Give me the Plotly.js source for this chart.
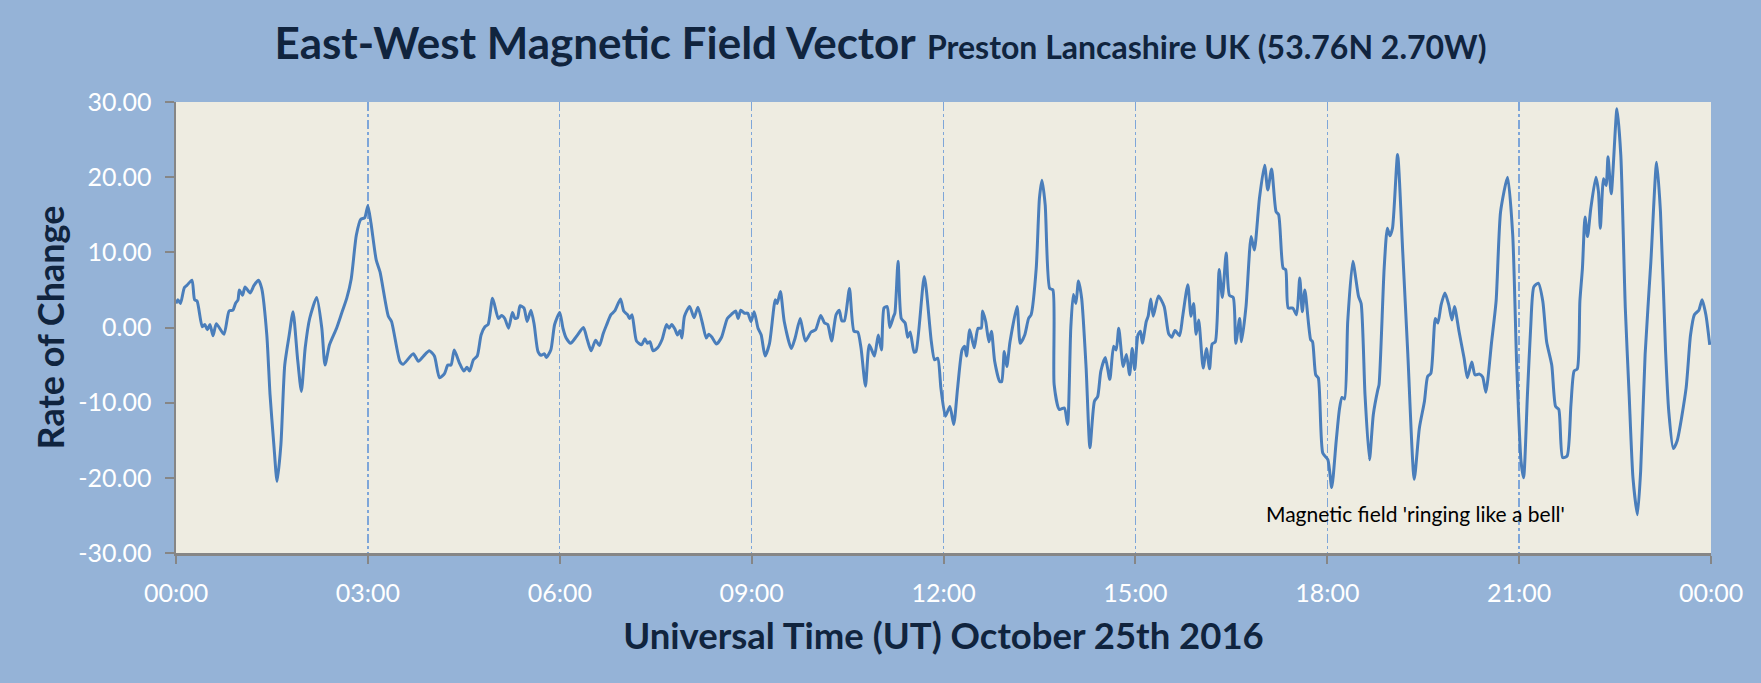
<!DOCTYPE html>
<html>
<head>
<meta charset="utf-8">
<script src="https://cdn.plot.ly/plotly-3.0.1.min.js"></script>
<style>
  html, body { margin: 0; padding: 0; background: #95b3d7; }
  #chart { width: 1761px; height: 683px; }
</style>
</head>
<body>
<div id="chart"></div>
<script>
// Time of day (hours UT) for each reading
const timeHours = [
  0.00,0.03,0.07,0.13,0.17,0.25,0.29,0.33,0.41,0.45,0.49,0.53,0.58,0.63,0.75,0.83,0.89,0.93,0.97,0.99,
  1.04,1.08,1.16,1.22,1.29,1.34,1.42,1.47,1.53,1.58,1.64,1.70,1.77,1.83,1.90,1.96,2.02,2.09,2.20,2.28,
  2.33,2.40,2.51,2.59,2.67,2.74,2.82,2.89,2.95,3.00,3.05,3.13,3.19,3.32,3.37,3.50,3.55,3.71,3.79,3.87,
  3.96,4.04,4.12,4.20,4.25,4.30,4.35,4.43,4.50,4.55,4.59,4.65,4.71,4.77,4.83,4.88,4.95,5.04,5.09,5.14,
  5.20,5.26,5.30,5.34,5.38,5.44,5.49,5.55,5.60,5.66,5.71,5.76,5.79,5.86,5.92,6.00,6.05,6.10,6.17,6.26,
  6.37,6.43,6.49,6.56,6.62,6.68,6.73,6.80,6.86,6.95,7.00,7.06,7.09,7.13,7.20,7.28,7.33,7.37,7.41,7.46,
  7.53,7.60,7.67,7.71,7.75,7.80,7.84,7.88,7.91,7.95,8.03,8.10,8.16,8.23,8.29,8.33,8.38,8.45,8.53,8.62,
  8.69,8.75,8.79,8.83,8.89,8.94,8.99,9.04,9.10,9.15,9.21,9.28,9.37,9.40,9.45,9.51,9.62,9.68,9.76,9.84,
  9.93,10.00,10.08,10.14,10.19,10.25,10.32,10.37,10.41,10.45,10.53,10.60,10.66,10.71,10.78,10.84,10.92,10.98,11.03,11.07,
  11.12,11.16,11.22,11.24,11.29,11.34,11.40,11.44,11.48,11.54,11.57,11.70,11.81,11.86,11.91,11.96,12.03,12.10,12.16,12.22,
  12.29,12.33,12.36,12.41,12.48,12.54,12.59,12.61,12.66,12.71,12.75,12.80,12.88,12.91,12.95,12.99,13.04,13.15,13.20,13.27,
  13.33,13.37,13.45,13.50,13.54,13.59,13.66,13.71,13.73,13.81,13.89,13.94,13.99,14.03,14.07,14.11,14.16,14.23,14.29,14.36,
  14.41,14.46,14.53,14.60,14.66,14.70,14.74,14.81,14.86,14.91,14.95,14.99,15.04,15.08,15.11,15.17,15.20,15.24,15.28,15.36,
  15.45,15.52,15.57,15.62,15.69,15.74,15.82,15.87,15.91,15.95,15.99,16.06,16.11,16.16,16.20,16.25,16.31,16.36,16.42,16.47,
  16.53,16.57,16.63,16.66,16.73,16.81,16.86,16.94,17.02,17.07,17.13,17.20,17.24,17.31,17.35,17.39,17.46,17.52,17.57,17.61,
  17.65,17.74,17.77,17.82,17.86,17.93,18.01,18.07,18.14,18.19,18.23,18.27,18.32,18.40,18.49,18.53,18.59,18.66,18.72,18.79,
  18.81,18.89,18.94,18.98,19.02,19.10,19.18,19.26,19.36,19.44,19.52,19.57,19.62,19.69,19.73,19.78,19.84,19.90,19.95,19.99,
  20.06,20.14,20.19,20.26,20.31,20.38,20.43,20.48,20.57,20.64,20.71,20.82,20.90,20.96,21.03,21.07,21.13,21.18,21.23,21.30,
  21.37,21.43,21.51,21.57,21.62,21.68,21.75,21.81,21.86,21.91,21.95,21.99,22.03,22.07,22.12,22.20,22.24,22.27,22.32,22.36,
  22.39,22.44,22.53,22.59,22.66,22.72,22.78,22.85,22.90,22.97,23.06,23.15,23.21,23.29,23.34,23.41,23.47,23.61,23.68,23.74,
  23.81,23.86,23.92,23.98
];

// East-West rate of change
const rateOfChange = [
  3.2,3.7,3.2,5.3,5.6,6.3,3.7,3.5,0.1,0.4,-0.3,0.4,-1.1,0.5,-0.9,2.2,2.3,3.2,3.7,5.0,
  4.3,5.4,4.6,5.6,6.3,5.2,-1.0,-8.9,-15.6,-20.5,-15.6,-5.0,-1.0,2.1,-4.1,-8.5,-2.7,1.2,4.0,-0.1,
  -5.0,-2.3,-0.1,1.9,3.9,6.5,12.3,14.4,14.6,16.2,13.8,9.0,7.4,1.5,0.8,-4.5,-4.9,-3.5,-4.5,-3.8,
  -3.1,-3.8,-6.7,-6.1,-5.0,-5.0,-3.0,-4.7,-5.8,-5.3,-5.8,-4.3,-3.8,-1.0,0.1,0.4,3.9,1.2,1.6,1.2,
  -0.1,2.0,1.2,1.3,2.9,2.6,0.8,2.3,0.4,-3.2,-3.7,-3.5,-4.0,-3.0,0.4,2.0,-0.1,-1.4,-2.1,-1.2,
  0.0,-1.6,-3.1,-1.7,-2.4,-0.8,0.3,1.7,2.2,3.8,2.2,1.7,1.2,1.7,-1.8,-2.3,-1.5,-2.1,-1.9,-3.1,
  -2.7,-1.6,0.4,-0.1,0.4,-0.2,-1.0,-0.4,-1.4,1.5,2.8,1.3,2.7,0.6,-1.4,-0.9,-1.3,-2.2,-1.3,1.2,
  1.8,2.2,1.2,2.3,1.9,1.9,0.8,2.1,-0.1,-1.0,-3.8,-2.1,3.7,3.2,4.8,0.8,-2.8,-1.4,1.2,-1.8,
  -0.6,-0.3,1.6,0.6,0.4,-1.8,1.7,2.3,0.9,0.9,5.2,-0.5,-0.6,-2.7,-7.8,-2.3,-3.8,-1.0,-3.0,2.6,
  2.8,0.0,1.5,1.9,8.8,1.2,0.6,-1.3,-0.6,-3.3,-3.2,6.8,-1.9,-4.3,-4.1,-8.1,-11.8,-10.5,-12.9,-8.1,
  -3.0,-2.5,-3.8,-0.3,-2.7,-0.1,-0.1,2.2,0.8,-1.9,-0.5,-4.5,-7.2,-7.2,-3.2,-5.2,-1.9,2.8,-2.1,-1.0,
  1.2,1.7,7.9,17.2,19.6,16.3,5.2,5.0,-7.6,-10.9,-10.7,-12.9,-0.1,4.4,3.2,6.2,3.9,-5.4,-16.0,-9.8,
  -9.2,-5.8,-4.0,-6.9,-2.5,-3.0,-0.1,-5.2,-3.6,-6.3,-2.8,-5.6,-1.0,-0.5,-2.1,0.8,1.5,3.8,1.5,4.2,
  2.8,-0.8,-1.3,-0.4,-1.1,1.5,5.7,1.5,3.2,-0.9,1.0,-5.4,-2.8,-5.5,-2.2,-1.9,7.7,4.0,9.9,4.3,
  4.0,-2.1,1.2,-1.9,2.8,12.1,10.3,17.2,21.6,18.3,21.1,15.4,15.0,7.9,7.7,2.6,2.6,1.7,6.6,2.1,
  5.0,-1.6,-1.9,-6.3,-6.7,-16.7,-17.6,-21.3,-15.1,-10.9,-9.3,-9.5,0.8,8.8,4.1,3.2,-8.9,-17.6,-11.6,-8.3,
  -7.6,7.9,13.2,12.2,13.2,23.0,10.1,-3.6,-20.2,-13.4,-9.8,-6.5,-6.1,1.2,0.6,3.0,4.6,3.0,1.0,2.8,
  -0.5,-4.1,-6.7,-4.6,-6.3,-6.2,-6.6,-8.6,-1.9,3.5,15.4,20.0,12.3,-4.5,-17.8,-20.0,-8.9,-0.1,5.4,5.9,
  3.5,-1.9,-5.0,-10.5,-10.9,-17.3,-17.1,-10.3,-5.8,-5.5,3.5,7.9,14.7,12.1,15.8,20.0,18.1,13.2,19.8,18.9,
  22.7,17.8,29.1,22.9,2.6,-8.9,-20.0,-24.9,-19.1,-3.6,8.8,22.0,15.4,-3.2,-11.2,-16.1,-15.1,-8.1,-1.0,1.7,
  2.3,3.7,1.7,-2.3
];

const xTickValues = [0, 3, 6, 9, 12, 15, 18, 21, 24];
const xTickLabels = ["00:00", "03:00", "06:00", "09:00", "12:00", "15:00", "18:00", "21:00", "00:00"];
const yTickValues = [-30, -20, -10, 0, 10, 20, 30];
const yTickLabels = ["-30.00", "-20.00", "-10.00", "0.00", "10.00", "20.00", "30.00"];

const chartTitle = "East-West Magnetic Field Vector";
const chartSubtitle = "Preston Lancashire UK (53.76N 2.70W)";
const xAxisTitle = "Universal Time (UT) October 25th 2016";
const yAxisTitle = "Rate of Change";
const noteText = "Magnetic field 'ringing like a bell'";
const noteX = 19.375;
const noteY = -24.8;

const titleColor = "#10243e";
const fontFamily = "Lato, 'Open Sans', sans-serif";

const trace = {
  x: timeHours,
  y: rateOfChange,
  type: "scatter",
  mode: "lines",
  line: { color: "#4a7ebb", width: 3, shape: "spline", smoothing: 0.6 },
  hoverinfo: "x+y"
};

const layout = {
  width: 1761,
  height: 683,
  paper_bgcolor: "#95b3d7",
  plot_bgcolor: "#eeece1",
  showlegend: false,
  margin: { l: 176, r: 50, t: 102, b: 130, pad: 0 },
  font: { family: fontFamily, color: "#ffffff" },
  title: {
    text: "<b>" + chartTitle + "</b> <span style='font-size:32px'><b>" + chartSubtitle + "</b></span>",
    font: { family: fontFamily, size: 44, color: titleColor },
    x: 0.5, xref: "container", xanchor: "center",
    y: 1 - 44 / 683, yref: "container", yanchor: "middle"
  },
  xaxis: {
    range: [0, 24],
    tickmode: "array",
    tickvals: xTickValues,
    ticktext: xTickLabels,
    ticks: "outside",
    ticklen: 8,
    tickwidth: 2,
    tickcolor: "#868686",
    tickfont: { family: fontFamily, size: 25, color: "#ffffff" },
    ticklabelstandoff: 8,
    showline: true,
    linecolor: "#868686",
    linewidth: 2.5,
    showgrid: true,
    gridcolor: "#7ea6d9",
    gridwidth: 1.3,
    griddash: "dashdot",
    zeroline: false,
    fixedrange: true,
    title: {
      text: "<b>" + xAxisTitle + "</b>",
      font: { family: fontFamily, size: 36.5, color: titleColor },
      standoff: 18
    }
  },
  yaxis: {
    range: [-30, 30],
    tickmode: "array",
    tickvals: yTickValues,
    ticktext: yTickLabels,
    ticks: "outside",
    ticklen: 9,
    tickwidth: 2,
    tickcolor: "#868686",
    tickfont: { family: fontFamily, size: 25, color: "#ffffff" },
    ticklabelstandoff: 8,
    showline: true,
    linecolor: "#868686",
    linewidth: 2.5,
    showgrid: false,
    zeroline: false,
    fixedrange: true,
    title: {
      text: "<b>" + yAxisTitle + "</b>",
      font: { family: fontFamily, size: 36, color: titleColor },
      standoff: 3
    }
  },
  annotations: [
    {
      x: noteX, y: noteY, xref: "x", yref: "y",
      text: noteText,
      showarrow: false,
      font: { family: fontFamily, size: 21, color: "#000000" },
      xanchor: "center", yanchor: "middle"
    }
  ]
};

Plotly.newPlot("chart", [trace], layout, { displayModeBar: false, staticPlot: true });
</script>
</body>
</html>
